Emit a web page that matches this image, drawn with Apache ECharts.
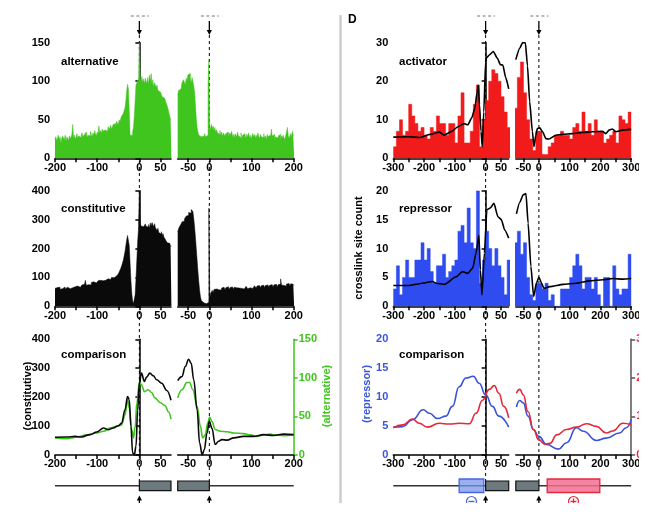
<!DOCTYPE html>
<html><head><meta charset="utf-8">
<script src="https://cdn.jsdelivr.net/npm/echarts@6/dist/echarts.min.js"></script>
<style>html,body{margin:0;padding:0;background:#fff}#c{width:672px;height:527px}</style>
</head><body><div id="c"></div>
<script>
// ---------------- DATA ----------------
// Panel A: per-position counts, 2-nt bins
const altLeftStart = -200, altRightStart = -75, ntBin = 2;
const altLeft = [25,28,22,27,30,24,28,20,26,29, 27,24,30,22,28,26,23,29,25,27, 31,44,27,30,25,28,32,26,29,31,
 27,30,33,28,26,31,29,34,27,30, 32,29,35,31,28,33,30,36,32,29, 34,31,42,33,36,32,38,35,33,37,
 35,39,34,41,37,36,43,38,40,44, 42,45,40,48,46,44,50,47,52,55, 54,58,57,66,75,88,96,90,62,30,
 32,30,34,40,55,75,95,98,102,96, 150,104,100,106,98,103,96,104,100,97, 105,96,108,100,110,95,102,92,98,96,
 92,95,88,90,86,84,88,80,82,78, 80,74,72,68,64,62,55,50];
const altRight = [82,88,86,90,92,98,96,102,100,95, 104,100,108,106,110,103,98,105,100,94, 86,70,52,40,34,30,31,28,30,27,
 29,26,32,28,27,30,96,128,36,40, 44,38,42,36,40,34,37,33,35,31, 36,30,34,28,33,35,29,32,30,34,
 27,33,30,29,35,28,31,26,32,30, 28,34,29,31,27,33,25,30,28,32, 29,26,31,28,33,27,30,25,29,32,
 28,31,26,30,27,33,29,25,31,28, 30,27,32,26,29,24,31,28,27,30, 26,38,29,27,31,25,28,30,26,29,
 27,31,25,29,26,30,28,24,29,27, 40,30,26,29,32,28,35,30];
const constLeft = [62,58,65,60,63,66,59,64,61,65, 63,67,60,64,66,62,68,61,65,63, 64,66,62,68,63,67,70,65,69,66,
 72,68,74,70,76,71,90,73,78,75, 77,80,74,82,78,85,79,83,81,86, 84,88,82,90,86,95,88,92,87,90,
 92,88,95,90,98,93,97,100,94,99, 102,97,105,100,108,112,118,125,132,140, 150,160,175,190,210,230,245,250,210,150,
 90,45,18,10,12,40,95,160,225,270, 400,285,278,282,275,280,272,285,276,280, 275,283,270,288,278,290,282,275,286,272,
 268,262,270,255,260,250,258,245,252,240, 238,230,225,220,215,218,212,208];
const constRight = [258,268,275,280,285,292,298,295,302,308, 312,318,315,325,330,322,335,340,328,305, 275,240,200,160,120,85,55,32,20,14,
 12,10,11,9,12,10,14,340,30,45, 50,55,48,58,52,60,55,62,57,53, 60,56,63,58,66,61,57,64,59,68,
 62,58,65,60,67,63,59,66,61,64, 60,67,63,58,65,62,68,64,60,66, 63,69,65,61,67,64,70,66,62,68,
 65,71,67,63,70,66,72,68,64,71, 67,73,69,65,72,68,74,70,66,73, 69,75,71,67,74,70,76,72,68,75,
 71,77,95,74,76,72,78,74,70,77, 73,79,75,71,78,74,76,72];
// comparison (smoothed) curves [position, value]
const constCmpLeft = [[-200,61],[-172,62],[-152,64],[-137,62],[-117,70],[-101,79],[-85,93],[-74,87],[-62,93],[-50,101],[-42,110],[-34,156],[-28,202],[-24,191],[-20,99],[-16,7],[-12,0],[-8,30],[-4,156],[0,248],[5,283],[12,254],[17,269],[25,283],[33,274],[41,260],[53,248],[65,223],[75,189]];
const altCmpLeft = [[-200,22],[-172,21],[-149,23],[-125,26],[-101,28.5],[-85,30.6],[-70,35],[-54,37],[-42,39],[-34,52],[-28,71.5],[-24,61],[-18,33],[-14,22],[-10,37],[-6,67],[0,95],[5,91],[12,82],[21,84.5],[29,81],[37,74],[49,68],[61,64],[69,56],[75,46.5]];
const constCmpRight = [[-75,257],[-65,271],[-57,306],[-49,331],[-43,317],[-37,260],[-29,156],[-23,41],[-17,0],[-12,18],[-5.5,76],[0,116],[6,93],[14,36],[22,47],[30,53],[42,51],[58,59],[81,64],[105,64],[129,70],[153,67],[176,72],[200,70]];
const altCmpRight = [[-75,74],[-65,84.5],[-53,94],[-47,94],[-39,84.5],[-29,63],[-21,37],[-16,22],[-9.5,26],[-4,41],[1,49],[6,43.5],[14,33],[26,30.6],[42,30],[58,28.5],[81,27.6],[97,26],[113,24],[129,26],[145,27],[153,26],[176,25],[200,26]];

// Panel D: 10-nt bins
const binLeftStart = -300, binRightStart = -80, bin10 = 10;
const actLeft = [3,7,10,6,7,14,11,9,7,8,6,5,8,7,11,9,9,6,9,9,4,11,17,4,4,7,14,19,3,10,15,20,23,22,20,16,12,8];
const actRight = [13,21,25,17,10,5,2,7, 7,1,1,3,4,6,6,7,6,6, 5,8,9,7,12,7,9,6,10,7, 7,4,5,6,7,4,11,10,9,12];
const repLeft = [3,7,2,5,8,5,5,8,8,11,8,10,6,4,7,7,9,5,6,7,8,13,14,11,17,11,10,20,4,8,13,10,7,10,7,5,2,8];
const repRight = [11,13,9,11,5,2,1,4, 4,3,4,1,2,0,0,3,3,3, 5,7,9,7,3,5,5,3,5,2, 0,5,5,0,7,3,2,3,3,9];
const actLineLeft = [[-300,5.5],[-250,5.6],[-215,5.4],[-180,6.2],[-150,6.8],[-135,6],[-110,7],[-90,8.2],[-70,9],[-58,8.7],[-45,10.5],[-35,13],[-28,17],[-24,19],[-20,14],[-15,7],[-11,3],[-6,12],[0,25],[2,26],[12,26.8],[25,27.7],[38,26],[48,24.3],[56,24.2],[65,21],[75,18]];
const actLineRight = [[-75,25.6],[-62,28.6],[-53,30],[-44,30],[-37,24],[-30,14.7],[-21,6.9],[-16,3],[-10,6],[-5,7.7],[3,7.9],[12,6.9],[23,5.1],[33,5],[55,6],[77,6.2],[109,6.4],[141,6.7],[174,6.9],[206,7],[217,6.4],[228,7.3],[239,7.6],[250,6.9],[271,7.3],[300,7.5]];
const repLineLeft = [[-300,3.6],[-248,3.6],[-205,4],[-172,4.3],[-161,4],[-134,3.8],[-96,5.1],[-75,6],[-58,5.7],[-42,6.6],[-31,9.2],[-22,12.3],[-17,6.3],[-12,2],[-4,9.2],[4,16.7],[15,17],[27,17.8],[40,15.5],[51,15],[62,13.2],[75,11.8]];
const repLineRight = [[-73,16],[-62,18],[-51,19.3],[-42,19.5],[-35,14.4],[-26,6.9],[-17,1.7],[-8,4],[0,5],[9,4],[16,3.1],[36,3.4],[79,3.8],[122,4],[165,4.4],[208,4.6],[240,4.8],[273,4.7],[300,4.8]];
const repCmpLeft = [[-300,4.8],[-270,4.9],[-237,6.1],[-203,7.8],[-183,7.2],[-156,6.3],[-129,6.7],[-108,8.4],[-86,11.8],[-64,13.3],[-40,13.6],[-21,12.4],[0,10.4],[22,8.4],[43,6.7],[75,4.8]];
const repCmpRight = [[-73,8.3],[-62,9.4],[-51,9],[-35,6.7],[-18,4.4],[0,3.2],[25,1.8],[63,1],[90,2.1],[122,4.7],[144,4.1],[187,2.5],[219,2.9],[262,3.8],[284,4.7],[300,6.1]];
const actCmpLeft = [[-300,7],[-270,7.8],[-237,9.3],[-216,8.2],[-189,7.2],[-151,8.2],[-118,8],[-86,8.2],[-53,8.1],[-31,10.8],[-10,14.2],[12,17],[28,18],[43,16],[59,12.6],[75,9.6]];
const actCmpRight = [[-73,16],[-62,17],[-51,15.6],[-35,11.2],[-18,6.6],[0,3.9],[19,2.8],[36,3],[58,5.2],[90,6.6],[122,7.2],[155,8.1],[187,7.4],[219,5.7],[240,6.2],[273,8.2],[300,7.8]];

// axis ticks / labels
const aLeftTicks = [-200,-150,-100,-50,0,50], aLeftLabels = [-200,-100,0,50];
const aRightTicks = [-50,0,50,100,150,200], aRightLabels = [-50,0,100,200];
const dLeftTicks = [-300,-250,-200,-150,-100,-50,0,50], dLeftLabels = [-300,-200,-100,0,50];
const dRightTicks = [-50,0,50,100,150,200,250,300], dRightLabels = [-50,0,100,200,300];
// gene model features (nt)
const exonA = [[0,75],[-75,0]];
const repRegion = [-86,-6], actRegion = [27,198];

// ---------------- STYLE ----------------
const FONT = '"Liberation Sans", Arial, sans-serif';
const GREEN = '#40c41e', BLACK = '#0a0a0a', RED = '#f21b1b', BLUE = '#2e4cf0';
const BLUE_L = '#3a52d8', RED_L = '#e6283c', BLUE_T = '#3b55d8';
const rowTop = [42.7, 190.7, 339.3], rowH = 115.6;
const colA = [[55,116],[177.7,116]], colD = [[393.3,115.4],[515.8,115.4]];

const grids = [];
for (let r=0;r<3;r++){ grids.push({left:colA[0][0],top:rowTop[r],width:colA[0][1],height:rowH}); grids.push({left:colA[1][0],top:rowTop[r],width:colA[1][1],height:rowH}); }
for (let r=0;r<3;r++){ grids.push({left:colD[0][0],top:rowTop[r],width:colD[0][1],height:rowH}); grids.push({left:colD[1][0],top:rowTop[r],width:colD[1][1],height:rowH}); }

function xAx(g,min,max,ticks,labels){
  return {type:'value',gridIndex:g,min,max,
    axisLine:{show:true,onZero:false,lineStyle:{color:'#000',width:1.5}},
    axisTick:{show:true,length:4,customValues:ticks,lineStyle:{color:'#000',width:1.5}},
    axisLabel:{customValues:labels,color:'#000',fontWeight:'bold',fontSize:11,fontFamily:FONT,margin:4},
    splitLine:{show:false}};
}
function yAx(g,max,interval,pos,lineColor,labelColor){
  return {type:'value',gridIndex:g,min:0,max,interval,position:pos,
    axisLine:{show:true,lineStyle:{color:lineColor,width:1.5}},
    axisTick:{show:true,length:4,lineStyle:{color:lineColor,width:1.5}},
    axisLabel:{color:labelColor,fontWeight:'bold',fontSize:11,fontFamily:FONT,margin:5},
    splitLine:{show:false}};
}
function yHid(g,max){ return {type:'value',gridIndex:g,min:0,max,show:false,splitLine:{show:false}}; }

const xAxes = [];
for (let r=0;r<3;r++){ xAxes.push(xAx(2*r,-200,75,aLeftTicks,aLeftLabels)); xAxes.push(xAx(2*r+1,-75,200,aRightTicks,aRightLabels)); }
for (let r=0;r<3;r++){ xAxes.push(xAx(6+2*r,-300,75,dLeftTicks,dLeftLabels)); xAxes.push(xAx(7+2*r,-75,300,dRightTicks,dRightLabels)); }

const yAxes = [
  yAx(0,150,50,'left','#000','#000'), yHid(1,150),
  yAx(2,400,100,'left','#000','#000'), yHid(3,400),
  yAx(4,400,100,'left','#000','#000'), yHid(4,150), yHid(5,400), yAx(5,150,50,'right',GREEN,GREEN),
  yAx(6,30,10,'left','#000','#000'), yHid(7,30),
  yAx(8,20,5,'left','#000','#000'), yHid(9,20),
  yAx(10,20,5,'left','#000',BLUE_T), yHid(10,30), yHid(11,20), yAx(11,30,10,'right','#555',RED_L)
];

// histogram drawn as a filled step line (bin start -> value), closed at the last bin edge
function hist(xi,yi,start,bin,vals,color){
  const pts = vals.map((v,i)=>[start+i*bin, v]);
  pts.push([start+vals.length*bin, vals[vals.length-1]]);
  return {type:'line',xAxisIndex:xi,yAxisIndex:yi,data:pts,step:'end',symbol:'none',showSymbol:false,
    silent:true,animation:false,clip:true,z:2,
    lineStyle:{color,width:0.5},areaStyle:{color,opacity:1,origin:'start'}};
}
function curve(xi,yi,data,color,sm){
  return {type:'line',xAxisIndex:xi,yAxisIndex:yi,data,symbol:'none',showSymbol:false,smooth:sm,smoothMonotone:'x',
    silent:true,animation:false,z:3,lineStyle:{color,width:1.6}};
}

const series = [
  hist(0,0,altLeftStart,ntBin,altLeft,GREEN), hist(1,1,altRightStart,ntBin,altRight,GREEN),
  hist(2,2,altLeftStart,ntBin,constLeft,BLACK), hist(3,3,altRightStart,ntBin,constRight,BLACK),
  curve(4,5,altCmpLeft,GREEN,0.4), curve(4,4,constCmpLeft,BLACK,0.4),
  curve(5,7,altCmpRight,GREEN,0.4), curve(5,6,constCmpRight,BLACK,0.4),
  hist(6,8,binLeftStart,bin10,actLeft,RED), curve(6,8,actLineLeft,'#000',0.2),
  hist(7,9,binRightStart,bin10,actRight,RED), curve(7,9,actLineRight,'#000',0.2),
  hist(8,10,binLeftStart,bin10,repLeft,BLUE), curve(8,10,repLineLeft,'#000',0.2),
  hist(9,11,binRightStart,bin10,repRight,BLUE), curve(9,11,repLineRight,'#000',0.2),
  curve(10,12,repCmpLeft,BLUE_L,0.5), curve(10,13,actCmpLeft,RED_L,0.5),
  curve(11,14,repCmpRight,BLUE_L,0.5), curve(11,15,actCmpRight,RED_L,0.5)
];

const chart = echarts.init(document.getElementById('c'), null, {renderer:'canvas', width:672, height:527});
chart.setOption({animation:false, backgroundColor:'#fff', grid:grids, xAxis:xAxes, yAxis:yAxes, series});

// ---------------- ANNOTATIONS (positions from the axes) ----------------
const X = (i,v)=>chart.convertToPixel({xAxisIndex:i}, v);
const G = [];
const bold = s=>'bold '+s+'px '+FONT;
G.push({type:'line',z:1,shape:{x1:340.5,y1:15,x2:340.5,y2:503},style:{stroke:'#cccccc',lineWidth:2.5}});
const junctions = [X(0,0),X(1,0),X(6,0),X(7,0)];
junctions.forEach(x=>{
  G.push({type:'line',z:1,shape:{x1:x,y1:35,x2:x,y2:481},style:{stroke:'#000',lineWidth:1,lineDash:[3,3]}});
  G.push({type:'line',z:5,shape:{x1:x,y1:21,x2:x,y2:31},style:{stroke:'#000',lineWidth:1.3}});
  G.push({type:'polygon',z:5,shape:{points:[[x-2.6,30],[x+2.6,30],[x,35]]},style:{fill:'#000'}});
  G.push({type:'line',z:5,shape:{x1:x-8.5,y1:16,x2:x+9.5,y2:16},style:{stroke:'#777',lineWidth:1,lineDash:[3,2.5]}});
  G.push({type:'line',z:5,shape:{x1:x,y1:499,x2:x,y2:504},style:{stroke:'#000',lineWidth:1.3}});
  G.push({type:'polygon',z:5,shape:{points:[[x-2.6,500.5],[x+2.6,500.5],[x,495.5]]},style:{fill:'#000'}});
});
const yMid = 485.7;
[[0,-200,75],[1,-75,200],[6,-300,75],[7,-75,300]].forEach(([i,a,b])=>{
  G.push({type:'line',z:2,shape:{x1:X(i,a),y1:yMid,x2:X(i,b),y2:yMid},style:{stroke:'#333',lineWidth:1.6}});
});
[[0,exonA[0]],[1,exonA[1]],[6,exonA[0]],[7,exonA[1]]].forEach(([i,e])=>{
  const x1=X(i,e[0]), x2=X(i,e[1]);
  G.push({type:'rect',z:3,shape:{x:x1,y:481,width:x2-x1,height:9.7},style:{fill:'#6c7a80',stroke:'#111',lineWidth:1.2}});
});
{ const x1=X(6,repRegion[0]), x2=X(6,repRegion[1]);
  G.push({type:'rect',z:3,shape:{x:x1,y:479,width:x2-x1,height:13.5},style:{fill:'rgba(120,150,235,0.75)',stroke:'#4a66dd',lineWidth:1.3}});
  const cx=(x1+x2)/2;
  G.push({type:'circle',z:3,shape:{cx,cy:501.5,r:5},style:{fill:'none',stroke:'#4a66dd',lineWidth:1.2}});
  G.push({type:'line',z:3,shape:{x1:cx-3,y1:501.5,x2:cx+3,y2:501.5},style:{stroke:'#4a66dd',lineWidth:1.4}});
}
{ const x1=X(7,actRegion[0]), x2=X(7,actRegion[1]);
  G.push({type:'rect',z:3,shape:{x:x1,y:479,width:x2-x1,height:13.5},style:{fill:'rgba(242,110,145,0.85)',stroke:'#e8283c',lineWidth:1.3}});
  const cx=(x1+x2)/2;
  G.push({type:'circle',z:3,shape:{cx,cy:501.5,r:5},style:{fill:'none',stroke:'#e8283c',lineWidth:1.2}});
  G.push({type:'line',z:3,shape:{x1:cx-3,y1:501.5,x2:cx+3,y2:501.5},style:{stroke:'#e8283c',lineWidth:1.4}});
  G.push({type:'line',z:3,shape:{x1:cx,y1:498.5,x2:cx,y2:504.5},style:{stroke:'#e8283c',lineWidth:1.4}});
}
const titles = [['alternative',61,62],['constitutive',61,208.5],['comparison',61,355],['activator',399,62],['repressor',399,208.5],['comparison',399,355]];
titles.forEach(([t,x,y])=>G.push({type:'text',z:6,x,y,style:{text:t,font:bold(11.5),fill:'#000',align:'left',verticalAlign:'middle'}}));
G.push({type:'text',z:6,x:28,y:396,rotation:Math.PI/2,style:{text:'(constitutive)',font:bold(11),fill:'#000',align:'center',verticalAlign:'middle'}});
G.push({type:'text',z:6,x:327,y:396,rotation:Math.PI/2,style:{text:'(alternative)',font:bold(11),fill:GREEN,align:'center',verticalAlign:'middle'}});
G.push({type:'text',z:6,x:359,y:248,rotation:Math.PI/2,style:{text:'crosslink site count',font:bold(11),fill:'#000',align:'center',verticalAlign:'middle'}});
G.push({type:'text',z:6,x:367,y:394,rotation:Math.PI/2,style:{text:'(repressor)',font:bold(11),fill:BLUE_T,align:'center',verticalAlign:'middle'}});
G.push({type:'text',z:6,x:348,y:20,style:{text:'D',font:bold(12),fill:'#000',align:'left',verticalAlign:'middle'}});
// figure crop edges
G.push({type:'rect',z:100,shape:{x:639,y:0,width:33,height:527},style:{fill:'#fff'}});
G.push({type:'rect',z:100,shape:{x:0,y:503,width:672,height:24},style:{fill:'#fff'}});
chart.setOption({graphic:{elements:G}});
</script></body></html>
